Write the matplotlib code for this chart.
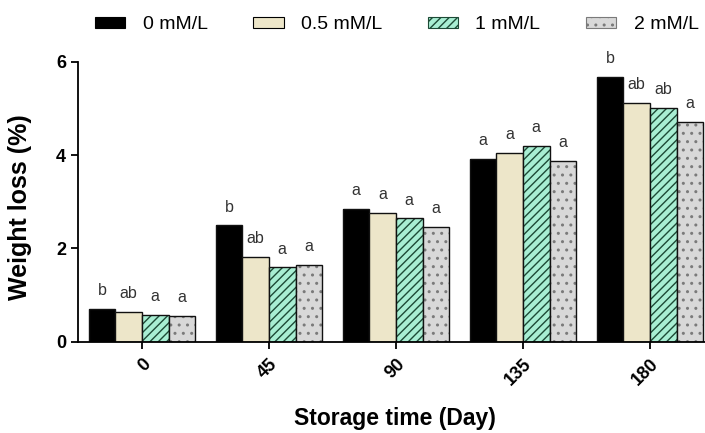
import numpy as np
import matplotlib.pyplot as plt
from matplotlib.patches import Patch

days = ["0", "45", "90", "135", "180"]
conc = ["0 mM/L", "0.5 mM/L", "1 mM/L", "2 mM/L"]

# weight loss (%) per concentration
wl_0 = [0.70, 2.49, 2.84, 3.92, 5.68]
wl_05 = [0.63, 1.82, 2.75, 4.04, 5.11]
wl_1 = [0.57, 1.59, 2.64, 4.19, 5.00]
wl_2 = [0.55, 1.64, 2.45, 3.87, 4.70]

# significance letters
let_0 = ["b", "b", "a", "a", "b"]
let_05 = ["ab", "ab", "a", "a", "ab"]
let_1 = ["a", "a", "a", "a", "ab"]
let_2 = ["a", "a", "a", "a", "a"]

plt.rcParams['font.family'] = ['Liberation Sans', 'DejaVu Sans']
plt.rcParams['hatch.linewidth'] = 1.0

fig = plt.figure(figsize=(7.05, 4.33), dpi=100)
ax = fig.add_axes([0.1102, 0.2109, 1.012 - 0.1102, 0.6466])

x = np.arange(len(days))
w = 0.21
series = [wl_0, wl_05, wl_1, wl_2]
letters = [let_0, let_05, let_1, let_2]
faces = ['#000000', '#ede6c9', '#a8eed3', '#d8d8d8']
hatches = [None, None, '////', '..']
hcols = ['#000000', '#000000', '#1d4a36', '#7a7a7a']

handles = []
for i, vals in enumerate(series):
    pos = x + (i - 1.5) * w
    # fill + hatch first, then a plain black outline on top
    ax.bar(pos, vals, w, color=faces[i], edgecolor=hcols[i], hatch=hatches[i], linewidth=0)
    ax.bar(pos, vals, w, fill=False, edgecolor='#111111', linewidth=1.0)
    handles.append(Patch(facecolor=faces[i], edgecolor=hcols[i], hatch=hatches[i], linewidth=0.8))
    for p, v, t in zip(pos, vals, letters[i]):
        ax.annotate(t, (p, v), xytext=(0, 10), textcoords='offset points',
                    ha='center', va='baseline', fontsize=11.5, color='#333333')

ax.set_xlim(-0.506, 4.5)
ax.set_ylim(0, 6)
ax.set_yticks([0, 2, 4, 6])
ax.set_xticks(x)
ax.set_xticklabels(days, rotation=45, ha='right', va='top', rotation_mode='anchor')
for lab in ax.get_xticklabels() + ax.get_yticklabels():
    lab.set_fontweight('bold')
    lab.set_fontsize(13)
ax.tick_params(axis='both', width=1.3, length=5, direction='out')
ax.tick_params(axis='x', pad=5)
for s in ['top', 'right']:
    ax.spines[s].set_visible(False)
for s in ['left', 'bottom']:
    ax.spines[s].set_linewidth(1.3)

ax.set_xlabel("Storage time (Day)", fontsize=16.5, fontweight='bold')
ax.set_ylabel("Weight loss (%)", fontsize=18, fontweight='bold')
ax.xaxis.set_label_coords(0.499, -0.235)
ax.yaxis.set_label_coords(-0.072, 0.479)

fig.legend(handles, conc, loc='center', bbox_to_anchor=(0.563, 0.943), ncol=4,
           frameon=False, fontsize=14, handlelength=1.55, handleheight=0.48,
           handletextpad=0.9, columnspacing=2.34)

fig.savefig("out.png", dpi=100)
